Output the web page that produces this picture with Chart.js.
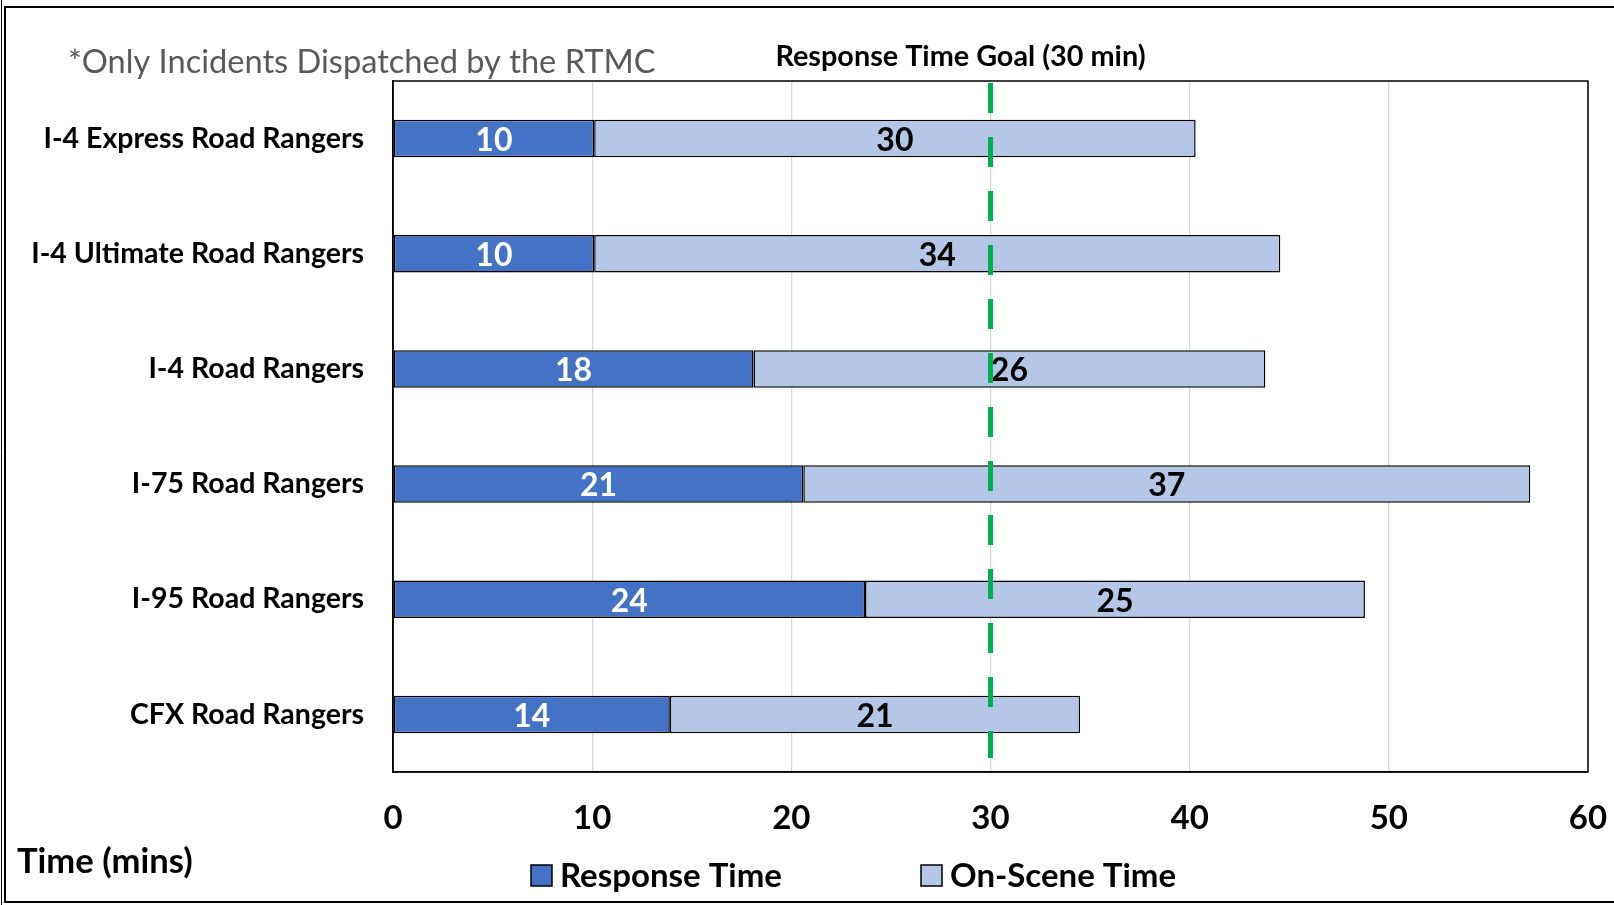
<!DOCTYPE html>
<html>
<head>
<meta charset="utf-8">
<title>Road Rangers Response and On-Scene Time</title>
<script src="https://cdn.jsdelivr.net/npm/chart.js@4.4.1/dist/chart.umd.min.js"></script>
<style>
  html, body { margin: 0; padding: 0; background: #fff; }
  #wrap { position: relative; width: 1614px; height: 905px; }
</style>
</head>
<body>
<div id="wrap"><canvas id="rangerChart" width="1614" height="905"></canvas></div>
<script>
// values (minutes)
const programs = [
  'I-4 Express Road Rangers',
  'I-4 Ultimate Road Rangers',
  'I-4 Road Rangers',
  'I-75 Road Rangers',
  'I-95 Road Rangers',
  'CFX Road Rangers'
];
const responseTime = [10.1, 10.1, 18.1, 20.6, 23.7, 13.9];
const onSceneTime = [30.2, 34.45, 25.7, 36.5, 25.1, 20.6];
const xTicks = [0, 10, 20, 30, 40, 50, 60];
const goalMinutes = 30;

const FONT = 'Lato, "Noto Sans", sans-serif';

// everything Chart.js does not draw by itself: frame, goal line, bar labels, texts, legend
const extras = {
  id: 'extras',
  beforeDraw(chart) {
    const ctx = chart.ctx;
    ctx.save();
    ctx.fillStyle = '#fff';
    ctx.fillRect(0, 0, chart.width, chart.height);
    ctx.strokeStyle = '#000';
    ctx.lineWidth = 2;
    ctx.strokeRect(5, 7, chart.width + 10, chart.height - 10);
    ctx.lineWidth = 1;
    ctx.beginPath();
    ctx.moveTo(1.5, 0);
    ctx.lineTo(1.5, chart.height);
    ctx.stroke();
    ctx.restore();
  },
  afterDatasetsDraw(chart) {
    const ctx = chart.ctx;
    const area = chart.chartArea;
    ctx.save();

    // frame round the plot
    ctx.strokeStyle = '#000';
    ctx.lineWidth = 1.5;
    ctx.strokeRect(area.left, area.top, area.right - area.left, area.bottom - area.top);

    // labels in the bars
    ctx.font = 'bold 32px ' + FONT;
    ctx.textAlign = 'center';
    ctx.textBaseline = 'middle';
    chart.data.datasets.forEach((ds, i) => {
      const meta = chart.getDatasetMeta(i);
      ctx.fillStyle = i === 0 ? '#fff' : '#000';
      meta.data.forEach((bar, j) => {
        const p = bar.getProps(['x', 'y', 'base'], true);
        ctx.fillText(String(Math.round(ds.data[j])), (p.x + p.base) / 2, p.y + 2);
      });
    });

    // goal line
    const gx = chart.scales.x.getPixelForValue(goalMinutes);
    ctx.strokeStyle = '#00B050';
    ctx.lineWidth = 5;
    ctx.setLineDash([30, 24]);
    ctx.beginPath();
    ctx.moveTo(gx, area.top + 2);
    ctx.lineTo(gx, area.bottom - 14);
    ctx.stroke();
    ctx.setLineDash([]);

    // goal caption
    ctx.fillStyle = '#000';
    ctx.font = 'bold 28.8px ' + FONT;
    ctx.fillText('Response Time Goal (30 min)', gx - 30, 57);
    ctx.restore();
  },
  afterDraw(chart) {
    const ctx = chart.ctx;
    ctx.save();
    ctx.textBaseline = 'middle';
    ctx.textAlign = 'left';

    ctx.fillStyle = '#595959';
    ctx.font = '32.6px ' + FONT;
    ctx.fillText('*Only Incidents Dispatched by the RTMC', 68, 62);

    ctx.fillStyle = '#000';
    ctx.font = 'bold 34.6px ' + FONT;
    ctx.fillText('Time (mins)', 17, 862);

    // legend
    const legendX = [531, 921];
    ctx.font = 'bold 33px ' + FONT;
    chart.data.datasets.forEach((ds, i) => {
      const x = legendX[i];
      ctx.fillStyle = ds.backgroundColor;
      ctx.fillRect(x, 865, 21, 21);
      ctx.strokeStyle = '#000';
      ctx.lineWidth = 1.5;
      ctx.strokeRect(x, 865, 21, 21);
      ctx.fillStyle = '#000';
      ctx.fillText(ds.label, x + 29, 876);
    });
    ctx.restore();
  }
};

const ctx = document.getElementById('rangerChart').getContext('2d');
const chart = new Chart(ctx, {
  type: 'bar',
  data: {
    labels: programs,
    datasets: [
      {
        label: 'Response Time',
        data: responseTime,
        backgroundColor: '#4472C4',
        borderColor: '#000',
        borderWidth: 1.5,
        borderSkipped: false
      },
      {
        label: 'On-Scene Time',
        data: onSceneTime,
        backgroundColor: '#B4C7E7',
        borderColor: '#000',
        borderWidth: 1.5,
        borderSkipped: false
      }
    ]
  },
  options: {
    indexAxis: 'y',
    responsive: false,
    animation: false,
    devicePixelRatio: 1,
    categoryPercentage: 1,
    barPercentage: 0.325,
    layout: { padding: { left: 0, top: 81, right: 26, bottom: 73 } },
    plugins: {
      legend: { display: false },
      tooltip: { enabled: false }
    },
    scales: {
      x: {
        stacked: true,
        min: xTicks[0],
        max: xTicks[xTicks.length - 1],
        afterBuildTicks: scale => { scale.ticks = xTicks.map(v => ({ value: v })); },
        afterFit: scale => {
          scale.height = 60;
          scale.paddingLeft = 0;
          scale.paddingRight = 0;
        },
        ticks: {
          color: '#000',
          padding: 27,
          font: { family: FONT, size: 33, weight: 'bold' }
        },
        grid: { color: '#D9D9D9', lineWidth: 1.3, drawTicks: false },
        border: { color: '#000', width: 1.5 }
      },
      y: {
        stacked: true,
        afterFit: scale => { scale.width = 393; },
        ticks: {
          color: '#000',
          padding: 29,
          font: { family: FONT, size: 28.5, weight: 'bold' }
        },
        grid: { display: false, drawTicks: false },
        border: { color: '#000', width: 1.5 }
      }
    }
  },
  plugins: [extras]
});
</script>
</body>
</html>
